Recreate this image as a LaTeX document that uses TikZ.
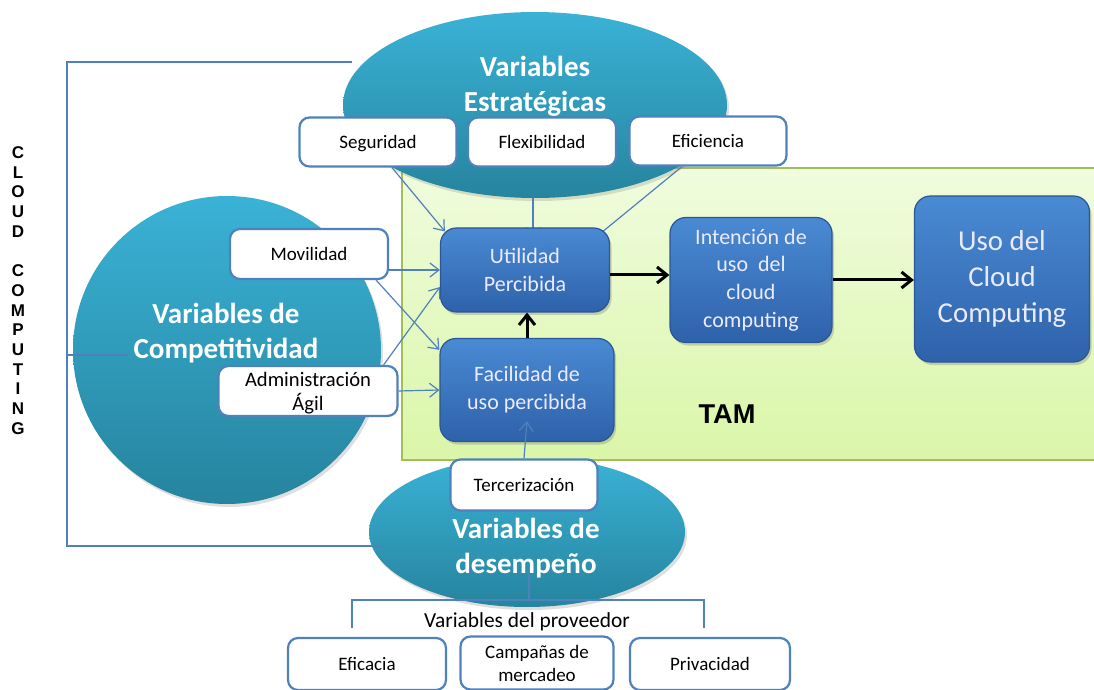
\documentclass[tikz,border=0pt]{standalone}
\usepackage{fontspec}
\setmainfont{Carlito}
\newfontfamily\arialfont{Liberation Sans}
\usetikzlibrary{shapes.geometric,arrows.meta,shadows}
\pgfdeclarelayer{back}
\pgfdeclarelayer{lines}
\pgfsetlayers{back,lines,main}

\definecolor{linkblue}{RGB}{79,129,189}
\definecolor{tealtop}{RGB}{58,178,214}
\definecolor{tealbot}{RGB}{38,132,158}
\definecolor{boxtop}{RGB}{74,138,212}
\definecolor{boxbot}{RGB}{46,98,170}
\definecolor{boxedge}{RGB}{44,86,148}
\definecolor{tamtop}{RGB}{240,252,222}
\definecolor{tambot}{RGB}{218,246,168}
\definecolor{tamedge}{RGB}{160,190,90}

\begin{document}
\begin{tikzpicture}[
        x=0.5pt, y=-0.5pt,
        link/.style={draw=linkblue, line width=0.6pt, -{Straight Barb[length=4.5pt,width=7pt]}},
        flow/.style={draw=black, line width=1.5pt, -{Straight Barb[length=5pt,width=8pt]}},
        brace/.style={draw=linkblue, line width=0.7pt}
    ]
    \tikzset{
        varbox/.style = {rectangle, rounded corners=5pt, draw=linkblue, line width=1.1pt, fill=white, align=center, inner sep=0pt, text depth=0pt, font=\fontsize{9.5}{11.5}\selectfont},
        tambox/.style = {rectangle, rounded corners=8pt, draw=boxedge, line width=0.6pt, top color=boxtop, bottom color=boxbot, align=center, inner sep=0pt, text=white!92!blue, drop shadow={opacity=0.35, shadow xshift=1pt, shadow yshift=-1.5pt}},
        group/.style = {ellipse, inner sep=0pt, top color=tealtop, bottom color=tealbot, drop shadow={opacity=0.25, shadow xshift=1pt, shadow yshift=-1.5pt}},
        grouptext/.style = {align=center, text=white, font=\fontsize{14.5}{17.5}\selectfont\bfseries},
    }
    \useasboundingbox (0,0) rectangle (1094,690);

    \begin{pgfonlayer}{back}
    \node[group, minimum width=158pt, minimum height=75pt] (desemp) at (527,532) {};
    \node[rectangle, minimum width=348pt, minimum height=146pt, draw=tamedge, line width=0.8pt, top color=tamtop, bottom color=tambot] (tam) at (750,314) {};
    \end{pgfonlayer}

    \node[group, minimum width=192pt, minimum height=93pt] (estr) at (535,105) {};
    \node[group, circle, minimum size=154pt] (compet) at (227,350) {};
    \node[grouptext] at (535,86) {Variables\\Estratégicas};
    \node[grouptext] at (226,333) {Variables de\\Competitividad};
    \node[grouptext] at (526,548) {Variables de\\desempeño};

    \node[font=\arialfont\bfseries\fontsize{8.5}{9.85}\selectfont, align=center] (cloud) at (18,290.5)
        {C\\L\\O\\U\\D\\[9.85pt]C\\O\\M\\P\\U\\T\\I\\N\\G};
    \coordinate (bktop) at (352,62);
    \coordinate (bkbot) at (382,546);
    \coordinate (bkmid) at (128,355);
    \draw[brace] (bktop) -- (67,62) -- (67,546) -- (bkbot);
    \draw[brace] (67,355) -- (bkmid);

    \node[tambox, minimum width=84.5pt, minimum height=42pt, font=\fontsize{11}{14}\selectfont] (util) at (525,270) {Utilidad\\Percibida};
    \node[tambox, minimum width=87pt, minimum height=51.5pt, font=\fontsize{11}{14}\selectfont] (facil) at (527,390) {Facilidad de\\uso percibida};
    \node[tambox, minimum width=81pt, minimum height=62.5pt, font=\fontsize{11}{13.8}\selectfont] (int) at (751,280) {Intención de\\uso \ del\\cloud\\computing};
    \node[tambox, minimum width=87.5pt, minimum height=83pt, font=\fontsize{14.4}{18.2}\selectfont] (uso) at (1002,279) {Uso del\\Cloud\\Computing};
    \node[font=\arialfont\bfseries\fontsize{13.6}{16}\selectfont] (tamlabel) at (727,414) {TAM};

    \node[varbox, minimum width=78.5pt, minimum height=24.5pt] (seg) at (378,142) {Seguridad};
    \node[varbox, minimum width=74pt, minimum height=24.5pt] (flex) at (542,142) {Flexibilidad};
    \node[varbox, minimum width=78.5pt, minimum height=24.5pt] (efic) at (708,141) {Eficiencia};
    \node[varbox, minimum width=79pt, minimum height=25pt] (mov) at (309,254) {Movilidad};
    \node[varbox, minimum width=89.5pt, minimum height=25pt, font=\fontsize{10.3}{12}\selectfont] (admin) at (308,391) {Administración\\Ágil};
    \node[varbox, minimum width=73.5pt, minimum height=25.5pt] (terc) at (524,485) {Tercerización};
    \node[varbox, minimum width=79pt, minimum height=26pt] (efca) at (367,664) {Eficacia};
    \node[varbox, minimum width=76.5pt, minimum height=26.5pt] (camp) at (537,663) {Campañas de\\mercadeo};
    \node[varbox, minimum width=80pt, minimum height=26pt] (priv) at (710,664) {Privacidad};

    \node[font=\fontsize{10.7}{13}\selectfont] (prov) at (527,622) {Variables del proveedor};
    \coordinate (provtop) at (529,573);
    \draw[brace] (352,628) -- (352,600) -- (704,600) -- (704,628);
    \draw[brace] (provtop) -- (529,600);

    \begin{pgfonlayer}{lines}
    \draw[link] ([xshift=7pt]seg.south) -- ([xshift=2.5pt,yshift=-2pt]util.north west);
    \draw[link] ([xshift=-4.5pt]flex.south) -- ([xshift=4pt,yshift=-5pt]util.north);
    \draw[link] ([xshift=-13pt]efic.south) -- ([xshift=-11.5pt,yshift=-8.5pt]util.north east);
    \end{pgfonlayer}
    \draw[link] ([yshift=-8pt]mov.east) -- (util.west);
    \draw[link] ([xshift=-6.5pt]mov.south east) -- ([yshift=-6pt]facil.north west);
    \draw[link] ([xshift=-7.5pt]admin.north east) -- ([yshift=-8.5pt]util.west);
    \draw[link] (admin.east) -- (facil.west);
    \draw[link] (terc.north) -- ([yshift=10.5pt]facil.south);

    \draw[flow] (facil.north) -- (facil.north |- util.south);
    \draw[flow] ([yshift=-2.5pt]util.east) -- ([yshift=-2.5pt]util.east -| int.west);
    \draw[flow] (int.east) -- (int.east -| uso.west);
\end{tikzpicture}
\end{document}
